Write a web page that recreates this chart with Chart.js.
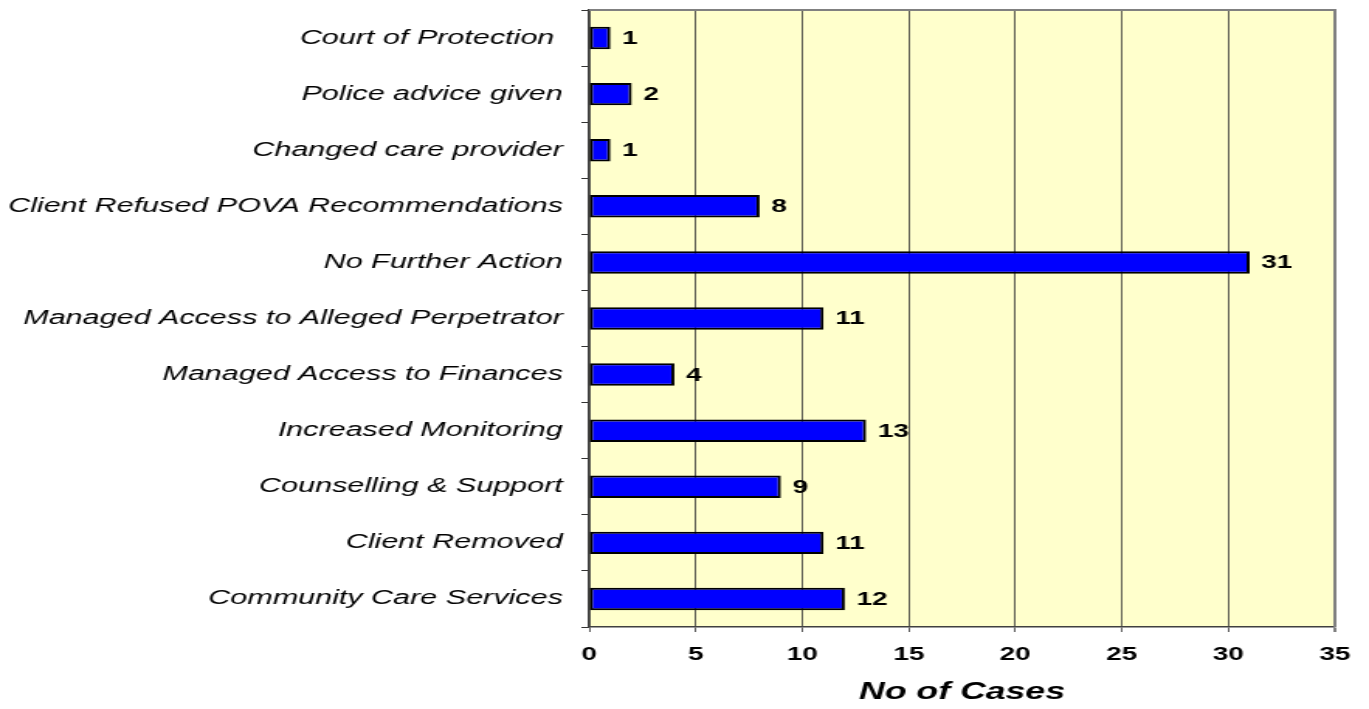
<!DOCTYPE html>
<html>
<head>
<meta charset="utf-8">
<script src="https://cdn.jsdelivr.net/npm/chart.js@4/dist/chart.umd.min.js"></script>
<style>
  html, body { margin: 0; padding: 0; background: #fff; overflow: hidden; }
  #myChart { display: block; }
</style>
</head>
<body>
<!-- the original picture is stretched sideways, so the canvas is drawn narrow and widened by its inline style -->
<canvas id="myChart" width="883" height="709" style="width:1369px;height:709px;"></canvas>
<script>
const categories = [
    'Court of Protection ',
    'Police advice given',
    'Changed care provider',
    'Client Refused POVA Recommendations',
    'No Further Action',
    'Managed Access to Alleged Perpetrator',
    'Managed Access to Finances',
    'Increased Monitoring',
    'Counselling & Support',
    'Client Removed',
    'Community Care Services'
];
const cases = [1, 2, 1, 8, 31, 11, 4, 13, 9, 11, 12];
const xTicks = [0, 5, 10, 15, 20, 25, 30, 35];
const axisTitle = 'No of Cases';

const FONT = "'Liberation Sans', Arial, sans-serif";

// pale yellow plot area plus grey top edge
const plotBackground = {
    id: 'plotBackground',
    beforeDraw(chart) {
        const { ctx, chartArea: a } = chart;
        ctx.save();
        ctx.fillStyle = '#FFFFCC';
        ctx.fillRect(a.left, a.top, a.right - a.left, a.bottom - a.top);
        ctx.restore();
    },
    afterDraw(chart) {
        const { ctx, chartArea: a } = chart;
        ctx.save();
        ctx.strokeStyle = '#808080';
        ctx.lineWidth = 2;
        ctx.beginPath();
        ctx.moveTo(a.left, a.top);
        ctx.lineTo(a.right, a.top);
        ctx.lineTo(a.right, a.bottom);
        ctx.stroke();
        ctx.restore();
    }
};

// value written after each bar
const valueLabels = {
    id: 'valueLabels',
    afterDatasetsDraw(chart) {
        const { ctx } = chart;
        const meta = chart.getDatasetMeta(0);
        ctx.save();
        ctx.font = 'bold 18px ' + FONT;
        ctx.fillStyle = '#000';
        ctx.textAlign = 'left';
        ctx.textBaseline = 'middle';
        meta.data.forEach((bar, i) => {
            ctx.fillText(String(cases[i]), bar.x + 7.5, bar.y + 1);
        });
        ctx.restore();
    }
};

const ctx = document.getElementById('myChart').getContext('2d');
new Chart(ctx, {
    type: 'bar',
    data: {
        labels: categories,
        datasets: [{
            data: cases,
            backgroundColor: '#0000FF',
            borderColor: '#000000',
            borderWidth: 2,
            borderSkipped: false,
            barPercentage: 0.4,
            categoryPercentage: 1.0
        }]
    },
    options: {
        indexAxis: 'y',
        responsive: false,
        animation: false,
        devicePixelRatio: 1,
        layout: { padding: { left: 0, top: 10, right: 20, bottom: 0 } },
        plugins: {
            legend: { display: false },
            tooltip: { enabled: false }
        },
        scales: {
            x: {
                min: 0,
                max: 35,
                afterBuildTicks: (scale) => { scale.ticks = xTicks.map(v => ({ value: v })); },
                afterFit: (scale) => { scale.height = 82; },
                ticks: {
                    color: '#000',
                    padding: 12,
                    font: { family: FONT, size: 18, weight: 'bold' }
                },
                grid: {
                    color: (c) => (c.tick && c.tick.value === 35 ? '#808080' : '#333333'),
                    lineWidth: (c) => (c.tick && c.tick.value === 35 ? 2 : 0.8),
                    tickLength: 5
                },
                border: { color: '#404040', width: 1.5 },
                title: {
                    display: true,
                    text: axisTitle,
                    color: '#000',
                    font: { family: FONT, size: 23, weight: 'bold', style: 'italic' },
                    padding: { top: 0, bottom: 3 }
                }
            },
            y: {
                afterFit: (scale) => {
                    scale.width = 380;
                    scale.paddingTop = 0;
                    scale.paddingBottom = 0;
                },
                ticks: {
                    color: '#000',
                    padding: 12,
                    font: { family: FONT, size: 19.7, style: 'italic' }
                },
                grid: {
                    drawOnChartArea: false,
                    drawTicks: true,
                    tickLength: 5,
                    color: '#333333',
                    lineWidth: 1
                },
                border: { color: '#404040', width: 1.2 }
            }
        }
    },
    plugins: [plotBackground, valueLabels]
});
</script>
</body>
</html>
